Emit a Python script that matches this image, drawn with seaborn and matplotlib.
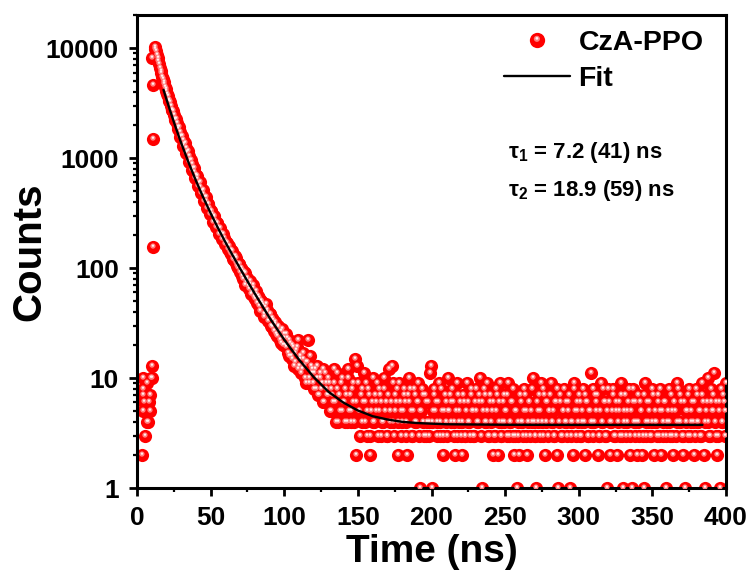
import numpy as np
import pandas as pd
import matplotlib
matplotlib.use("Agg")
import matplotlib.pyplot as plt
import seaborn as sns
from matplotlib.path import Path
from matplotlib.lines import Line2D
from matplotlib.legend_handler import HandlerTuple
from matplotlib.ticker import FixedLocator, MultipleLocator, FuncFormatter, LogLocator, NullFormatter

# ---- data ----
# scattered background / rising edge before the peak
pre_time = [3.2, 4.3, 4.3, 4.3, 4.3, 4.5, 5.4, 6.5, 7.0, 7.7, 8.0, 8.8, 8.8, 9.3, 10.0, 10.0,
            10.0, 10.6, 11.0, 10.6]
pre_counts = [2, 10, 8, 7, 5, 6, 3, 9, 4, 4, 6, 7, 5, 10, 10, 13,
              8060, 4600, 1480, 156]

# decay, one value per ns starting at 12 ns
decay_start = 12
decay_counts = [
    10300, 9400, 8100, 7100, 6200, 5500, 4900, 4450, 4050, 3700,
    3300, 3000, 2720, 2480, 2270, 2080, 1900, 1740, 1590, 1460,
    1340, 1230, 1130, 1045, 960, 885, 815, 755, 700, 640,
    590, 545, 505, 470, 440, 405, 380, 352, 330, 310,
    290, 268, 255, 238, 226, 210, 200, 188, 178, 168,
    160, 140, 145, 128, 118, 124, 105, 108, 92, 97,
    80, 90, 74, 78, 65, 72, 60, 66, 52, 58,
    56, 45, 50, 48, 38, 44, 42, 33, 38, 30,
    35, 27, 31, 24, 29, 22, 27, 20, 25, 19,
    23, 16, 21, 15, 19, 14, 18, 22, 13, 16,
    12, 15, 10, 14, 22, 9, 13, 11, 8, 12,
    10, 7, 11, 8, 12, 6, 9, 7, 10, 5,
    8, 6, 9, 4, 11, 7, 5, 10, 6, 4,
    7, 12, 5, 4, 8, 6, 15, 2, 9, 5,
    7, 4, 11, 6, 3, 8, 2, 5, 10, 4,
    6, 9, 5, 7, 3, 4, 8, 6, 3, 12,
    5, 13, 4, 7, 6, 2, 9, 5, 4, 8,
    6, 3, 7, 10, 5, 3, 8, 4, 6, 9,
    1, 5, 7, 3, 6, 4, 3, 11, 1, 5,
    8, 6, 4, 9, 3, 5, 3, 7, 4, 10,
    5, 6, 8, 4, 2, 3, 7, 5, 3, 2,
    6, 3, 9, 4, 3, 7, 5, 3, 8, 4,
    6, 10, 1, 5, 7, 4, 9, 3, 6, 5,
    2, 3, 8, 2, 6, 3, 4, 7, 5, 3,
    9, 4, 6, 3, 2, 5, 1, 3, 7, 4,
    3, 8, 5, 2, 6, 3, 4, 10, 3, 1,
    5, 7, 3, 4, 8, 2, 6, 3, 5, 9,
    4, 3, 6, 2, 1, 7, 3, 5, 8, 4,
    3, 6, 1, 4, 2, 9, 3, 5, 7, 3,
    4, 8, 2, 6, 3, 5, 11, 4, 3, 7,
    5, 2, 3, 9, 4, 6, 3, 1, 8, 2,
    4, 7, 3, 5, 2, 6, 3, 9, 1, 4,
    3, 5, 8, 2, 1, 6, 3, 4, 7, 3,
    5, 2, 1, 9, 3, 4, 6, 3, 8, 2,
    4, 3, 7, 5, 2, 3, 6, 1, 4, 8,
    3, 5, 2, 6, 3, 9, 4, 7, 3, 2,
    1, 5, 3, 8, 4, 6, 2, 3, 7, 4,
    5, 3, 9, 2, 1, 6, 4, 3, 8, 5,
    11, 3, 2, 6, 1, 4, 7, 3, 9,
]

# in-between channels (half-ns offsets) from 12.5 ns on
mid_start = 12.5
mid_counts = [
    9900, 8700, 7600, 6600, 5900, 5200, 4700, 4250,
    3850, 3400, 3250, 2750, 2700, 2200, 2250, 1850, 1900, 1560,
    1600, 1300, 1360, 1120, 1150, 930, 960, 780, 810, 660,
    690, 560, 600, 480, 510, 410, 440, 350, 380, 310,
    330, 265, 295, 235, 258, 205, 230, 185, 205, 165,
    172, 150, 158, 133, 142, 120, 128, 112, 101, 110,
    101, 84, 92, 70, 82, 68, 76, 58, 70, 55,
    62, 48, 54, 41, 50, 46, 36, 47, 40, 35,
    38, 29, 34, 32, 25, 30, 26, 21, 28, 23,
    20, 25, 17, 22, 16, 20, 13, 17, 19, 12,
    15, 11, 17, 13, 9, 14, 10, 16, 12, 9,
    11, 8, 13, 7, 10, 9, 6, 11, 8, 7,
    9, 5, 7, 12, 6, 8, 4, 7, 9, 5,
    6, 8, 4, 10, 7, 5, 9, 4, 6, 13,
    5, 3, 8, 6, 4, 9, 5, 7, 3, 6,
    4, 7, 5, 3, 8, 6, 4, 10, 5, 3,
    7, 4, 6, 9, 3, 5, 8, 4, 6, 3,
    5, 7, 4, 2, 6, 8, 3, 5, 7, 4,
    6, 3, 5, 8, 4, 7, 3, 6, 4, 13,
    4, 7, 5, 3, 6, 4, 8, 2, 5, 6,
    3, 5, 7, 4, 6, 3, 5, 9, 4, 6,
    4, 7, 3, 5, 6, 4, 8, 5, 3, 6,
    5, 4, 7, 3, 6, 8, 4, 5, 3, 7,
    4, 6, 3, 5, 7, 4, 9, 3, 6, 4,
    5, 7, 3, 4, 6, 8, 3, 5, 4, 2,
    6, 4, 5, 7, 3, 4, 6, 5, 8, 4,
    3, 6, 4, 5, 9, 3, 7, 4, 6, 5,
    7, 4, 5, 3, 6, 8, 4, 6, 3, 5,
    4, 6, 5, 7, 3, 4, 8, 5, 6, 4,
    6, 3, 5, 4, 7, 6, 3, 5, 4, 8,
    4, 6, 7, 3, 5, 4, 8, 6, 3, 5,
    6, 4, 5, 8, 3, 6, 4, 5, 7, 3,
    5, 7, 4, 6, 3, 5, 8, 4, 6, 2,
    4, 6, 5, 3, 7, 4, 6, 5, 3, 4,
    7, 5, 4, 6, 3, 8, 5, 4, 6, 3,
    5, 4, 7, 3, 6, 5, 4, 8, 4, 6,
    3, 6, 4, 5, 7, 3, 5, 4, 6, 8,
    4, 5, 3, 7, 6, 4, 5, 10, 3, 6,
    5, 7, 4, 6, 3, 5, 8, 4, 6, 5,
]

# fitted curve
fit_time = [18, 20, 22.5, 25, 27.5, 30, 35, 40, 45, 50, 55, 60, 65, 70, 75, 80, 90, 100,
            110, 120, 130, 140, 150, 160, 170, 180, 190, 210, 250, 300, 384]
fit_counts = [4176, 3425, 2692, 2131, 1703, 1371, 911, 624, 438, 315, 231, 172, 130, 99, 76,
              58.5, 35.3, 22.3, 14.7, 10.2, 7.5, 6.0, 5.07, 4.5, 4.2, 4.0, 3.9, 3.8, 3.76,
              3.75, 3.75]

decay_time = np.arange(decay_start, decay_start + len(decay_counts))
mid_time = np.arange(mid_start, mid_start + len(mid_counts))
df = pd.DataFrame({
    "time": np.concatenate([pre_time, decay_time, mid_time]),
    "counts": np.concatenate([pre_counts, decay_counts, mid_counts]),
}).sort_values("time")

sns.set_theme(style="ticks")
plt.rcParams["font.family"] = ["Liberation Sans", "DejaVu Sans"]
plt.rcParams["font.weight"] = "bold"
plt.rcParams["axes.labelweight"] = "bold"
plt.rcParams["mathtext.default"] = "regular"
for k in ["axes.edgecolor", "xtick.color", "ytick.color", "text.color", "axes.labelcolor"]:
    plt.rcParams[k] = "black"


def glint(cx, cy, r):
    # highlight spot drawn inside a unit marker frame so it keeps its offset
    frame = Path([(-1, -1), (1, 1)], [Path.MOVETO, Path.MOVETO])
    return Path.make_compound_path(frame, Path.circle((cx, cy), r))


glow_mk = glint(-0.08, 0.22, 0.4)
core_mk = glint(-0.08, 0.28, 0.18)

fig = plt.figure(figsize=(7.55, 5.73), dpi=100)
ax = fig.add_axes([0.1815, 0.1483, 0.7801, 0.8255])

msize = 90
sns.scatterplot(data=df, x="time", y="counts", color="#ff0000", s=msize,
                linewidth=0, ax=ax, zorder=2, legend=False)
sns.scatterplot(data=df, x="time", y="counts", color="#ff8080", s=msize, marker=glow_mk,
                linewidth=0, ax=ax, zorder=3, legend=False)
sns.scatterplot(data=df, x="time", y="counts", color="#fff0f0", s=msize, marker=core_mk,
                linewidth=0, ax=ax, zorder=3, legend=False)
sns.lineplot(x=fit_time, y=fit_counts, color="black", lw=1.7, ax=ax, zorder=4,
             estimator=None, sort=False)

ax.set_yscale("log")
ax.set_xlim(0, 400)
ax.set_ylim(1, 20000)

ax.yaxis.set_major_locator(FixedLocator([1, 10, 100, 1000, 10000]))
ax.yaxis.set_major_formatter(FuncFormatter(lambda v, p: f"{v:g}"))
ax.yaxis.set_minor_locator(LogLocator(base=10, subs=range(2, 10)))
ax.yaxis.set_minor_formatter(NullFormatter())
ax.xaxis.set_major_locator(MultipleLocator(50))
ax.xaxis.set_minor_locator(MultipleLocator(25))

ax.tick_params(which="major", direction="out", length=6, width=2, labelsize=19, pad=7)
ax.tick_params(which="minor", direction="out", length=3, width=1.6)
for sp in ax.spines.values():
    sp.set_linewidth(2.2)
    sp.set_color("black")
    sp.set_visible(True)

ax.set_xlabel("Time (ns)", fontsize=28, fontweight="bold")
ax.set_ylabel("Counts", fontsize=29, fontweight="bold")
ax.xaxis.set_label_coords(0.5, -0.097)
ax.yaxis.set_label_coords(-0.15, 0.5)

red = Line2D([], [], ls="none", marker="o", ms=11, mfc="#ff0000", mew=0)
glow = Line2D([], [], ls="none", marker=glow_mk, ms=11, mfc="#ff8080", mew=0)
core = Line2D([], [], ls="none", marker=core_mk, ms=11, mfc="#fff0f0", mew=0)
fit_h = Line2D([], [], color="black", lw=1.7)
ax.legend([(red, glow, core), fit_h], ["CzA-PPO", "Fit"],
          handler_map={tuple: HandlerTuple(ndivide=1, pad=0)},
          loc="upper right", bbox_to_anchor=(0.962, 0.968), frameon=False,
          fontsize=20.5, handlelength=2.3, handletextpad=0.3, labelspacing=0.33,
          borderpad=0, borderaxespad=0)

ax.text(0.63, 0.71, "τ$_1$ = 7.2 (41) ns", transform=ax.transAxes, fontsize=16,
        fontweight="bold", va="center")
ax.text(0.63, 0.63, "τ$_2$ = 18.9 (59) ns", transform=ax.transAxes, fontsize=16,
        fontweight="bold", va="center")

fig.savefig("out.png", dpi=100)
